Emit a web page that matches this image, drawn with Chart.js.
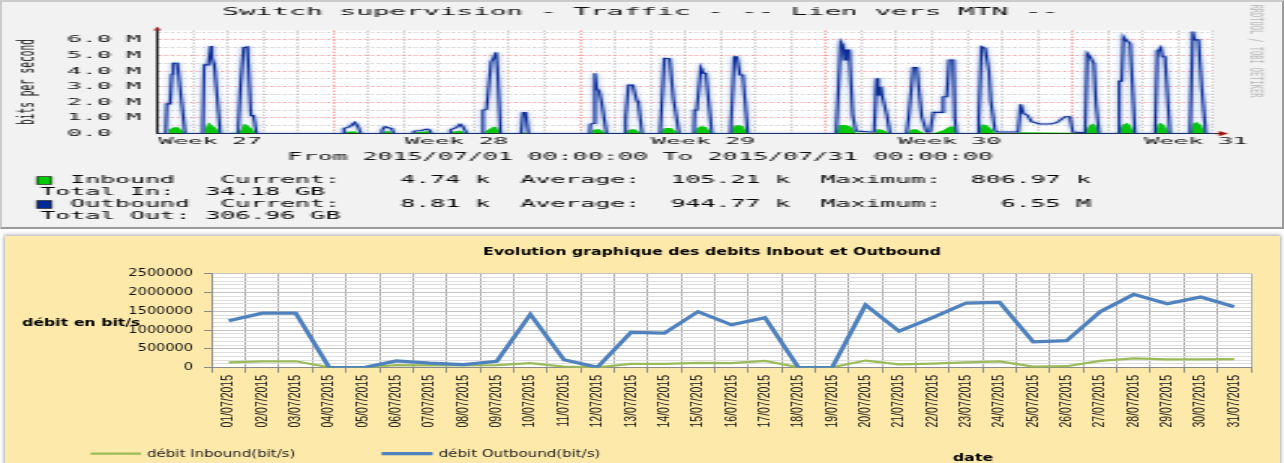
<!DOCTYPE html>
<html>
<head>
<meta charset="utf-8">
<script src="https://cdn.jsdelivr.net/npm/chart.js@4.4.0/dist/chart.umd.min.js"></script>
<style>
html,body{margin:0;padding:0;background:#fff;width:1284px;height:463px;overflow:hidden;position:relative}
#topPanel{position:absolute;left:0;top:0;width:1280px;height:225px;background:#f2f2f2;
  border-top:2px solid #cbcbcb;border-left:2px solid #cbcbcb;border-right:2px solid #9a9a9a;border-bottom:2px solid #9a9a9a}
#botPanel{position:absolute;left:5px;top:236px;width:1275px;height:232px;background:#fde9a9;box-shadow:0 0 4px 1px rgba(0,0,0,0.35)}
canvas{position:absolute;left:0}
</style>
</head>
<body>
<div id="topPanel"></div>
<div id="botPanel"></div>
<canvas id="c1" width="494" height="230" style="top:0;width:1284px;height:230px"></canvas>
<canvas id="c2" width="856" height="231" style="top:232px;width:1284px;height:231px"></canvas>
<script>
// ================= TOP GRAPH (RRDtool) : time in days since 2015/07/01 00:00, values in Mbit/s =================
const topTitle = 'Switch supervision - Traffic - -- Lien vers MTN --';
const topPeriod = 'From 2015/07/01 00:00:00 To 2015/07/31 00:00:00';
const topYLabel = 'bits per second';
const topYTickValues = [0, 1, 2, 3, 4, 5, 6];
const topYTickLabels = ['0.0', '1.0 M', '2.0 M', '3.0 M', '4.0 M', '5.0 M', '6.0 M'];
const weekPositions = [1.5, 8.5, 15.5, 22.5, 29.5];
const weekLabels = ['Week 27', 'Week 28', 'Week 29', 'Week 30', 'Week 31'];
const mondays = [5, 12, 19, 26];

const outboundSamples = [
 [0,0],
 [0.24,0],[0.27,1.9],[0.36,1.9],[0.41,3.8],[0.45,4.5],[0.57,4.5],[0.69,2.0],[0.79,0],
 [1.29,0],[1.33,4.4],[1.45,4.4],[1.52,5.6],[1.55,4.85],[1.62,4.4],[1.79,0],
 [2.29,0],[2.36,3.0],[2.45,5.5],[2.56,5.55],[2.66,1.15],[2.73,1.15],[2.82,0],
 [5.28,0],[5.30,0.33],[5.47,0.45],[5.61,0.72],[5.71,0.4],[5.78,0],
 [6.37,0],[6.39,0.25],[6.47,0.44],[6.61,0.35],[6.66,0.3],[6.72,0],
 [7.27,0],[7.29,0.16],[7.50,0.2],[7.65,0.29],[7.72,0.25],[7.79,0],
 [8.31,0],[8.33,0.25],[8.50,0.4],[8.60,0.59],[8.68,0.45],[8.79,0],
 [9.24,0],[9.25,1.5],[9.35,1.55],[9.48,4.6],[9.55,4.82],[9.62,5.2],[9.66,4.2],[9.75,0],
 [10.33,0],[10.39,1.35],[10.46,1.35],[10.54,0],
 [12.28,0],[12.30,0.6],[12.37,0.65],[12.43,3.86],[12.48,2.9],[12.55,2.7],[12.62,2.0],[12.76,0],
 [13.27,0],[13.30,1.0],[13.38,3.1],[13.50,3.1],[13.62,2.1],[13.66,2.0],[13.77,0],
 [14.28,0],[14.31,1.2],[14.40,4.82],[14.55,4.8],[14.66,2.2],[14.70,2.2],[14.82,0],
 [15.24,0],[15.26,1.5],[15.32,1.5],[15.44,4.22],[15.51,3.86],[15.58,3.86],[15.75,0],
 [16.28,0],[16.39,4.92],[16.46,4.92],[16.55,3.75],[16.63,3.75],[16.77,0],
 [19.28,0],[19.41,5.88],[19.47,5.67],[19.53,4.71],[19.57,5.35],[19.65,5.35],[19.75,1.18],[19.84,0.16],[20.24,0.1],
 [20.36,0.1],[20.43,3.54],[20.47,2.47],[20.51,2.47],[20.55,3.0],[20.58,2.47],[20.72,1.18],[20.81,0],
 [21.28,0],[21.34,1.08],[21.47,4.22],[21.57,4.22],[21.71,1.08],[21.85,0.1],[21.95,0.1],
 [22.04,1.36],[22.28,1.36],[22.32,2.36],[22.42,2.36],[22.49,4.71],[22.61,4.71],[22.65,1.0],[22.70,0],
 [23.30,0],[23.33,1.0],[23.41,5.56],[23.51,5.46],[23.62,4.0],[23.67,2.15],[23.79,0.22],[23.85,0.1],[24.31,0.1],
 [24.45,0.1],[24.52,1.87],[24.60,1.3],[24.71,1.18],[24.83,0.76],[25.07,0.61],[25.36,0.61],[25.54,0.7],[25.78,1.08],[25.92,1.08],[26.0,0.1],[26.30,0.05],
 [26.35,0],[26.41,5.14],[26.50,4.88],[26.60,4.5],[26.66,1.9],[26.75,0],
 [27.29,0],[27.32,3.36],[27.39,3.36],[27.44,6.2],[27.50,6.0],[27.56,6.0],[27.63,5.78],[27.77,0],
 [28.34,0],[28.40,5.3],[28.45,5.35],[28.50,5.5],[28.55,4.92],[28.62,4.92],[28.76,0],
 [29.33,0],[29.41,6.53],[29.46,6.0],[29.57,6.0],[29.66,3.0],[29.78,0],
 [30,0]
];
const inboundSamples = [
 [0,0],
 [0.27,0],[0.32,0.25],[0.45,0.4],[0.60,0.4],[0.75,0.1],[0.79,0],
 [1.30,0],[1.35,0.3],[1.45,0.72],[1.55,0.55],[1.70,0.3],[1.79,0],
 [2.05,0],[2.08,0.05],[2.25,0.05],[2.28,0],
 [2.30,0],[2.38,0.3],[2.45,0.65],[2.55,0.55],[2.70,0.3],[2.82,0],
 [3.62,0],[3.65,0.05],[3.70,0],
 [5.28,0],[5.35,0.12],[5.60,0.15],[5.78,0],
 [6.37,0],[6.45,0.15],[6.60,0.15],[6.72,0],
 [7.27,0],[7.35,0.1],[7.70,0.15],[7.79,0],
 [8.31,0],[8.40,0.12],[8.60,0.2],[8.79,0],
 [9.25,0],[9.35,0.2],[9.55,0.45],[9.65,0.4],[9.75,0],
 [10.35,0],[10.42,0.1],[10.52,0],
 [12.29,0],[12.38,0.25],[12.55,0.3],[12.76,0],
 [13.28,0],[13.38,0.25],[13.55,0.3],[13.77,0],
 [14.28,0],[14.40,0.35],[14.60,0.35],[14.82,0],
 [15.24,0],[15.33,0.35],[15.45,0.48],[15.60,0.4],[15.75,0],
 [16.28,0],[16.38,0.5],[16.50,0.55],[16.65,0.45],[16.77,0],
 [19.28,0],[19.35,0.55],[19.55,0.55],[19.70,0.45],[19.84,0.05],[20.30,0.03],
 [20.38,0.05],[20.45,0.3],[20.60,0.25],[20.81,0],
 [21.28,0],[21.40,0.25],[21.55,0.3],[21.71,0.1],[21.85,0],
 [22.00,0],[22.30,0.2],[22.50,0.45],[22.62,0.45],[22.70,0],
 [23.32,0],[23.40,0.6],[23.55,0.55],[23.70,0.3],[23.80,0.03],[24.40,0.03],[24.50,0.08],[26.00,0.05],[26.30,0],
 [26.35,0],[26.42,0.4],[26.55,0.65],[26.65,0.55],[26.75,0],
 [27.22,0],[27.30,0.15],[27.40,0.55],[27.55,0.7],[27.65,0.5],[27.77,0],
 [28.34,0],[28.42,0.6],[28.50,0.7],[28.62,0.5],[28.76,0],
 [29.33,0],[29.40,0.6],[29.50,0.75],[29.65,0.55],[29.78,0],
 [30,0]
];
const legendSeries = ['Inbound', 'Outbound'];
const legendStatNames = ['Current:', 'Average:', 'Maximum:'];
const inboundStats = ['4.74 k', '105.21 k', '806.97 k'];
const outboundStats = ['8.81 k', '944.77 k', '6.55 M'];
const totalNames = ['Total In:', 'Total Out:'];
const totalValues = ['34.18 GB', '306.96 GB'];

// ================= BOTTOM CHART (Excel) =================
const bottomTitle = 'Evolution graphique des debits Inbout et Outbound';
const bottomYLabel = 'débit en bit/s';
const bottomXLabel = 'date';
const dates = ['01/07/2015','02/07/2015','03/07/2015','04/07/2015','05/07/2015','06/07/2015','07/07/2015','08/07/2015',
 '09/07/2015','10/07/2015','11/07/2015','12/07/2015','13/07/2015','14/07/2015','15/07/2015','16/07/2015','17/07/2015',
 '18/07/2015','19/07/2015','20/07/2015','21/07/2015','22/07/2015','23/07/2015','24/07/2015','25/07/2015','26/07/2015',
 '27/07/2015','28/07/2015','29/07/2015','30/07/2015','31/07/2015'];
const inboundDaily = [140000,170000,170000,10000,10000,70000,60000,60000,70000,120000,30000,10000,100000,100000,130000,120000,
 180000,10000,10000,190000,90000,110000,140000,170000,30000,40000,180000,250000,220000,220000,230000];
const outboundDaily = [1250000,1450000,1450000,0,0,180000,120000,80000,170000,1420000,210000,10000,940000,920000,1490000,1140000,
 1330000,0,0,1670000,970000,1330000,1720000,1740000,690000,720000,1490000,1950000,1700000,1880000,1620000];
const bottomYMajorTicks = [0, 500000, 1000000, 1500000, 2000000, 2500000];
const bottomSeriesNames = ['débit Inbound(bit/s)', 'débit Outbound(bit/s)'];

// ---------------- top chart ----------------
const MONO = "'DejaVu Sans Mono', monospace";
const topDeco = {
  id: 'topDeco',
  beforeDraw(chart) {
    const {ctx, chartArea: a} = chart;
    ctx.save();
    ctx.fillStyle = '#ffffff';
    ctx.fillRect(a.left, a.top, a.right - a.left, a.bottom - a.top);
    ctx.restore();
  },
  beforeDatasetDraw(chart, args) {
    if (args.index === 1) {
      chart.ctx.save();
      chart.ctx.shadowColor = 'rgba(90,130,215,0.95)';
      chart.ctx.shadowBlur = 2.5;
    }
  },
  afterDatasetDraw(chart, args) {
    if (args.index === 1) chart.ctx.restore();
  },
  afterDraw(chart) {
    const {ctx, chartArea: a} = chart;
    ctx.save();
    // axis extensions and arrows
    ctx.strokeStyle = '#222'; ctx.lineWidth = 1;
    ctx.beginPath(); ctx.moveTo(a.left, a.top); ctx.lineTo(a.left, 29); ctx.stroke();
    ctx.beginPath(); ctx.moveTo(a.right, a.bottom); ctx.lineTo(469, a.bottom); ctx.stroke();
    ctx.fillStyle = '#a01010';
    ctx.beginPath(); ctx.moveTo(a.left - 1.4, 30.5); ctx.lineTo(a.left + 1.4, 30.5); ctx.lineTo(a.left, 26.5); ctx.closePath(); ctx.fill();
    ctx.beginPath(); ctx.moveTo(468.8, a.bottom - 2.6); ctx.lineTo(468.8, a.bottom + 2.6); ctx.lineTo(472.6, a.bottom); ctx.closePath(); ctx.fill();
    // watermark
    ctx.save();
    ctx.translate(482.8, 51);
    ctx.rotate(Math.PI / 2);
    ctx.font = '7px ' + MONO; ctx.fillStyle = '#b8b8b8'; ctx.textAlign = 'center'; ctx.textBaseline = 'middle';
    ctx.fillText('RRDTOOL / TOBI OETIKER', 0, 0);
    ctx.restore();
    // legend
    ctx.font = '9.6px ' + MONO; ctx.fillStyle = '#000'; ctx.textBaseline = 'middle'; ctx.textAlign = 'left';
    const stats = [inboundStats, outboundStats];
    const colors = [chart.data.datasets[0].backgroundColor, '#002a97'];
    const rowsY = [[180.5, 192], [204.5, 216.5]];
    for (let s = 0; s < 2; s++) {
      let line = legendSeries[s].padEnd(10);
      for (let k = 0; k < 3; k++) line += (k ? '  ' : '') + legendStatNames[k] + stats[s][k].padStart(10);
      const y1 = rowsY[s][0], y2 = rowsY[s][1];
      ctx.fillStyle = colors[s];
      ctx.fillRect(14.2, y1 - 3.8, 5.6, 7.6);
      ctx.strokeStyle = '#000'; ctx.lineWidth = 0.6;
      ctx.strokeRect(14.2, y1 - 3.8, 5.6, 7.6);
      ctx.fillStyle = '#000';
      ctx.fillText(line, 26.9, y1);
      ctx.fillText((totalNames[s] + ' ').padEnd(11) + totalValues[s], 15.4, y2);
    }
    ctx.restore();
  }
};

new Chart(document.getElementById('c1'), {
  type: 'line',
  data: {
    datasets: [
      {label: legendSeries[0], data: inboundSamples.map(p => ({x: p[0], y: p[1]})), borderWidth: 0, borderColor: '#00cc00',
       backgroundColor: '#00cc00', fill: 'origin', pointRadius: 0, tension: 0, order: 1},
      {label: legendSeries[1], data: outboundSamples.map(p => ({x: p[0], y: p[1]})), borderColor: '#0c2c94', borderWidth: 1.1,
       fill: false, pointRadius: 0, tension: 0, order: 0}
    ]
  },
  options: {
    responsive: false, animation: false, devicePixelRatio: 1,
    layout: {padding: {left: 25.8, right: 27.1, top: 0, bottom: 66.7}},
    plugins: {
      legend: {display: false}, tooltip: {enabled: false},
      title: {display: true, text: topTitle, color: '#111', font: {family: MONO, size: 10.7, weight: 'normal', lineHeight: 1.2},
              padding: {top: 5.6, bottom: 12.06}},
      subtitle: {display: true, position: 'bottom', text: topPeriod, color: '#111', font: {family: MONO, size: 9.6, lineHeight: 1.2},
                 padding: {top: 3.2, bottom: 0}}
    },
    scales: {
      x: {
        type: 'linear', min: 0, max: 30,
        afterBuildTicks: s => {
          const vals = [];
          for (let d = 0; d <= 30; d++) vals.push(d);
          weekPositions.forEach(w => vals.push(w));
          vals.sort((a, b) => a - b);
          s.ticks = vals.map(v => ({value: v}));
        },
        afterFit: s => { s.height = 15; },
        ticks: {autoSkip: false, maxRotation: 0, minRotation: 0, padding: 2.1, color: '#111',
                font: {family: MONO, size: 9.45, lineHeight: 1.2},
                callback: v => { const i = weekPositions.indexOf(v); return i >= 0 ? weekLabels[i] : ''; }},
        grid: {drawTicks: false, lineWidth: 0.5,
               color: c => { const v = c.tick ? c.tick.value : -1;
                 if (mondays.includes(v)) return 'rgba(240,60,60,0.9)';
                 if (Number.isInteger(v)) return 'rgba(150,150,150,0.9)';
                 return 'rgba(0,0,0,0)'; }},
        border: {color: '#222', width: 1, dash: [1.5, 1.5]}
      },
      y: {
        min: 0, max: 6.6,
        afterBuildTicks: s => {
          const vals = [];
          for (let v = 0; v <= 6.5; v += 0.5) vals.push(Math.round(v * 10) / 10);
          s.ticks = vals.map(v => ({value: v}));
        },
        afterFit: s => { s.width = 60.52 - 25.8; },
        ticks: {autoSkip: false, crossAlign: 'far', padding: 5.5, color: '#111', font: {family: MONO, size: 9.45, lineHeight: 1.2},
                callback: v => { const i = topYTickValues.indexOf(v); return i >= 0 ? topYTickLabels[i] : ''; }},
        title: {display: true, text: topYLabel, color: '#111', font: {family: MONO, size: 9.5, lineHeight: 1.2}, padding: {top: -20.7, bottom: 0}},
        grid: {drawTicks: false, lineWidth: 1,
               color: c => { const v = c.tick ? c.tick.value : 0;
                 return Number.isInteger(v) ? 'rgba(240,90,90,0.55)' : 'rgba(170,170,170,0.55)'; }},
        border: {color: '#222', width: 1, dash: [1.2, 1.2]}
      }
    }
  },
  plugins: [topDeco]
});

// ---------------- bottom chart ----------------
const SANS = "'DejaVu Sans', sans-serif";
const botDeco = {
  id: 'botDeco',
  beforeDraw(chart) {
    const {ctx, chartArea: a} = chart;
    ctx.save();
    ctx.fillStyle = '#ffffff';
    ctx.fillRect(a.left, a.top, a.right - a.left, a.bottom - a.top);
    ctx.restore();
  },
  afterDraw(chart) {
    const ctx = chart.ctx;
    ctx.save();
    ctx.textBaseline = 'middle'; ctx.fillStyle = '#000';
    ctx.font = 'bold 10.5px ' + SANS;
    ctx.textAlign = 'center';
    ctx.fillText(bottomTitle, 474.7, 20);
    ctx.textAlign = 'left';
    ctx.fillText(bottomYLabel, 14.7, 91.7);
    ctx.textAlign = 'center';
    ctx.fillText(bottomXLabel, 648.7, 226.5);
    // legend
    const ds = chart.data.datasets;
    const items = [{x1: 60.4, x2: 93.9, tx: 98}, {x1: 254.4, x2: 288.4, tx: 292.5}];
    ctx.textAlign = 'left'; ctx.font = '10px ' + SANS; ctx.fillStyle = '#222';
    items.forEach((it, i) => {
      ctx.strokeStyle = ds[i].borderColor; ctx.lineWidth = ds[i].borderWidth;
      ctx.beginPath(); ctx.moveTo(it.x1, 221.7); ctx.lineTo(it.x2, 221.7); ctx.stroke();
      ctx.fillText(ds[i].label, it.tx, 222);
    });
    ctx.restore();
  }
};

new Chart(document.getElementById('c2'), {
  type: 'line',
  data: {
    labels: dates,
    datasets: [
      {label: bottomSeriesNames[0], data: inboundDaily, borderColor: '#9bbb59', borderWidth: 2.2, pointRadius: 0, tension: 0, fill: false, order: 1},
      {label: bottomSeriesNames[1], data: outboundDaily, borderColor: '#4f81bd', borderWidth: 3.2, pointRadius: 0, tension: 0, fill: false, order: 0}
    ]
  },
  options: {
    responsive: false, animation: false, devicePixelRatio: 1,
    layout: {padding: {left: 0, right: 22, top: 41.7, bottom: 0}},
    plugins: {
      legend: {display: false}, tooltip: {enabled: false}, title: {display: false}
    },
    scales: {
      x: {
        offset: true,
        afterFit: s => { s.height = 95.3; },
        grid: {offset: true, color: '#a8a8a8', lineWidth: 1, tickLength: 5, tickColor: '#8a8a8a'},
        ticks: {autoSkip: false, minRotation: 90, maxRotation: 90, padding: 2.3, color: '#111',
                font: {family: "'Liberation Sans', sans-serif", size: 10.5}},
        border: {color: '#8a8a8a', width: 1}
      },
      y: {
        min: 0, max: 2500000,
        afterBuildTicks: s => {
          const vals = [];
          for (let v = 0; v <= 2500000; v += 100000) vals.push(v);
          s.ticks = vals.map(v => ({value: v}));
        },
        afterFit: s => { s.width = 141.3; },
        ticks: {autoSkip: false, padding: 7.3, color: '#111', font: {family: SANS, size: 9.7},
                callback: v => bottomYMajorTicks.includes(v) ? String(v) : ''},
        grid: {lineWidth: 1, tickLength: 5.3,
               color: c => (c.tick && bottomYMajorTicks.includes(c.tick.value)) ? '#c4c4c4' : '#dedede',
               tickColor: c => (c.tick && bottomYMajorTicks.includes(c.tick.value)) ? '#8a8a8a' : 'rgba(0,0,0,0)'},
        border: {color: '#8a8a8a', width: 1}
      }
    }
  },
  plugins: [botDeco]
});
</script>
</body>
</html>
